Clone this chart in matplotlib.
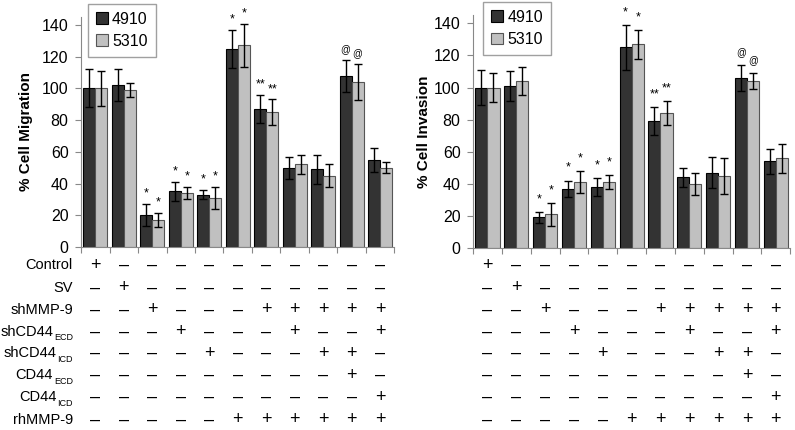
import matplotlib.pyplot as plt
import numpy as np
from matplotlib.transforms import blended_transform_factory

plt.rcParams['font.family'] = ['Liberation Sans', 'DejaVu Sans']

# data
mig_4910 = [100, 102, 20, 35, 33, 125, 87, 50, 49, 108, 55]
mig_4910_err = [12, 10, 7, 6, 3, 12, 9, 7, 9, 10, 7.5]
mig_5310 = [100, 99, 17, 34, 31, 127, 85, 52, 45, 104, 50]
mig_5310_err = [11, 4.5, 4.5, 4, 7, 13.5, 8, 6, 7, 11.5, 3.6]

inv_4910 = [100, 101, 19, 37, 38, 125, 79, 44, 47, 106, 54]
inv_4910_err = [11, 9.5, 3.3, 5, 5.5, 14, 8.6, 5.7, 9.5, 8, 7.6]
inv_5310 = [100, 104, 21, 41, 41, 127, 84, 40, 45, 104, 56]
inv_5310_err = [9, 8.6, 7, 7, 4.5, 9, 7.6, 6.7, 11.3, 4.8, 9]

marks = ['', '', '*', '*', '*', '*', '**', '', '', '@', '']

# (main text, subscript)
row_labels = [('Control', ''), ('SV', ''), ('shMMP-9', ''), ('shCD44', 'ECD'),
              ('shCD44', 'ICD'), ('CD44', 'ECD'), ('CD44', 'ICD'), ('rhMMP-9', '')]
table = [
    '+----------',
    '-+---------',
    '--+---+++++',
    '---+---+--+',
    '----+---++-',
    '---------+-',
    '----------+',
    '-----++++++',
]

dark = '#333333'
light = '#c0c0c0'

fig = plt.figure(figsize=(7.95, 4.30), dpi=100)
ax1 = fig.add_axes([0.102, 0.4256, 0.394, 0.535])
ax2 = fig.add_axes([0.595, 0.4233, 0.399, 0.541])

x = np.arange(len(mig_4910))
w = 0.42
row_y = [265, 288, 310, 332, 353, 375, 397, 420]


def panel(ax, a, aerr, b, berr, ylabel, pad, legx):
    ax.bar(x - w / 2, a, w, color=dark, edgecolor='black', linewidth=0.8,
           yerr=aerr, capsize=3, error_kw=dict(lw=1, capthick=1), label='4910')
    ax.bar(x + w / 2, b, w, color=light, edgecolor='#555555', linewidth=0.8,
           yerr=berr, capsize=3, error_kw=dict(lw=1, capthick=1), label='5310')
    for i, m in enumerate(marks):
        if m:
            fs = 7 if m == '@' else 9
            ax.text(x[i] - w / 2, a[i] + aerr[i] + pad, m, ha='center',
                    va='center', fontsize=fs, clip_on=False)
            ax.text(x[i] + w / 2, b[i] + berr[i] + pad, m, ha='center',
                    va='center', fontsize=fs, clip_on=False)
    ax.set_xlim(-0.5, 10.5)
    ax.set_ylim(0, 145)
    ax.set_yticks(range(0, 141, 20))
    ax.set_xticks(np.arange(-0.5, 11, 1))
    ax.set_xticklabels([])
    ax.tick_params(axis='x', length=4, color='#888888')
    ax.tick_params(axis='y', length=4, color='#888888', labelsize=11.5, pad=5)
    for s in ['top', 'right']:
        ax.spines[s].set_visible(False)
    ax.spines['left'].set_color('#888888')
    ax.spines['bottom'].set_color('#888888')
    ax.set_ylabel(ylabel, fontsize=11, fontweight='bold')
    leg = ax.legend(loc='upper left', bbox_to_anchor=(legx, 1.058), fontsize=11.5,
                    fancybox=False, edgecolor='#888888', handlelength=0.75,
                    handleheight=0.75, handletextpad=0.25, borderpad=0.5,
                    labelspacing=0.45, borderaxespad=0)
    leg.get_frame().set_linewidth(1)
    tr = blended_transform_factory(ax.transData, fig.transFigure)
    for r, row in enumerate(table):
        for i, c in enumerate(row):
            ax.text(x[i], 1 - row_y[r] / 430, '+' if c == '+' else '\u2013',
                    transform=tr, ha='center', va='center', fontsize=13)


panel(ax1, mig_4910, mig_4910_err, mig_5310, mig_5310_err, '% Cell Migration', 6.5, 0.022)
ax1.yaxis.set_label_coords(-0.153, 0.5)
panel(ax2, inv_4910, inv_4910_err, inv_5310, inv_5310_err, '% Cell Invasion', 8, 0.032)
ax2.yaxis.set_label_coords(-0.132, 0.5)

renderer = fig.canvas.get_renderer()
x_right = 73 / 795
for r, (main, sub) in enumerate(row_labels):
    yy = 1 - row_y[r] / 430
    xr = x_right
    if sub:
        t = fig.text(xr, yy - 6 / 430, sub, ha='right', va='center', fontsize=6.5)
        bb = t.get_window_extent(renderer)
        xr = xr - (bb.width + 1) / 795
    fig.text(xr, yy, main, ha='right', va='center', fontsize=10.5)

plt.savefig('out.png', dpi=100)
